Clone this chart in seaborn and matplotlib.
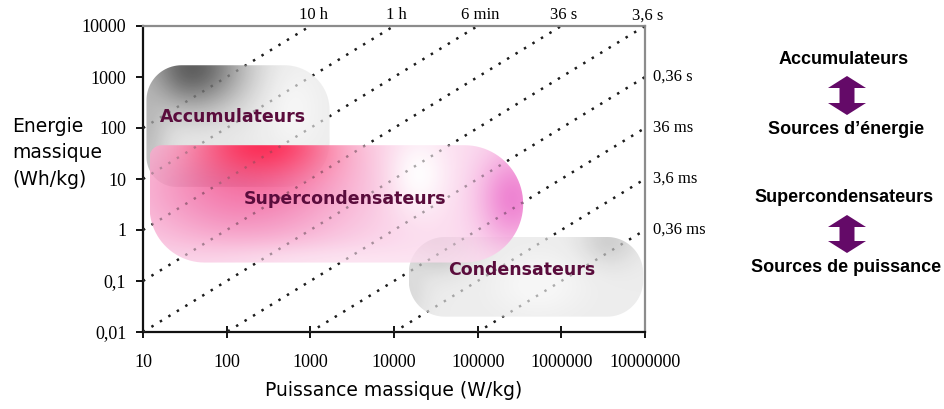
import numpy as np
import pandas as pd
import seaborn as sns
import matplotlib.pyplot as plt
import matplotlib.colors as mcolors
from matplotlib.patches import Polygon
from matplotlib.transforms import IdentityTransform

# axes ticks
power_ticks = [10, 100, 1000, 10000, 100000, 1000000, 10000000]
power_tick_labels = ["10", "100", "1000", "10000", "100000", "1000000", "10000000"]
energy_ticks = [0.01, 0.1, 1, 10, 100, 1000, 10000]
energy_tick_labels = ["0,01", "0,1", "1", "10", "100", "1000", "10000"]

# constant time lines (E = P * t, t in hours)
duration_h = [10, 1, 0.1, 0.01, 0.001, 1e-4, 1e-5, 1e-6, 1e-7]
duration_labels = ["10 h", "1 h", "6 min", "36 s", "3,6 s", "0,36 s", "36 ms", "3,6 ms", "0,36 ms"]

# technology regions (W/kg, Wh/kg)
tech_names = ["Accumulateurs", "Supercondensateurs", "Condensateurs"]
tech_power_min = [11, 12, 1.5e4]
tech_power_max = [1700, 3.5e5, 9.5e6]
tech_energy_min = [7, 0.23, 0.02]
tech_energy_max = [1700, 46, 0.73]
tech_label_power = [118, 2600, 3.4e5]
tech_label_energy = [165, 4.0, 0.165]

side_top = ["Accumulateurs", "Supercondensateurs"]
side_bottom = ["Sources d\u2019énergie", "Sources de puissance"]

# gradient look of each region: spots = ((fx, fy from top), (sx, sy), colour, strength)
blob_styles = {
    "Accumulateurs": dict(base="#ececec", radii=(30, 45, 45, 35), alpha=0.9, z=2, spots=[
        ((0.25, 0.02), (0.28, 0.35), "#454545", 0.95),
        ((0.0, 0.5), (0.12, 0.5), "#a0a0a0", 0.7),
        ((0.35, 0.97), (0.35, 0.2), "#7a7a7a", 0.6),
        ((0.8, 0.35), (0.15, 0.35), "#ffffff", 0.5)]),
    "Condensateurs": dict(base="#ebebeb", radii=(36, 36, 36, 36), alpha=0.9, z=2, spots=[
        ((0.12, 0.03), (0.15, 0.35), "#9a9a9a", 0.8),
        ((0.85, 0.05), (0.12, 0.3), "#b5b5b5", 0.6),
        ((0.0, 0.7), (0.08, 0.4), "#c4c4c4", 0.5),
        ((0.55, 0.6), (0.2, 0.4), "#ffffff", 0.6)]),
    "Supercondensateurs": dict(base="#fcd9ee", radii=(55, 60, 60, 12), alpha=0.85, z=3, spots=[
        ((0.25, 0.4), (0.3, 0.5), "#f0609f", 0.9),
        ((0.3, 0.0), (0.18, 0.3), "#ff1040", 1.0),
        ((0.97, 0.45), (0.09, 0.4), "#ea5cc4", 0.85),
        ((0.72, 0.25), (0.08, 0.35), "#ffffff", 0.95),
        ((0.5, 1.0), (0.4, 0.15), "#fde6f3", 0.7)]),
}


def rounded_outline(x0, y0, x1, y1, radii, n=24):
    bl, br, tr, tl = [min(r, (x1 - x0) / 2, (y1 - y0) / 2) for r in radii]
    pts = []
    for cx, cy, r, a0 in [(x0 + bl, y0 + bl, bl, 180), (x1 - br, y0 + br, br, 270),
                          (x1 - tr, y1 - tr, tr, 0), (x0 + tl, y1 - tl, tl, 90)]:
        a = np.radians(np.linspace(a0, a0 + 90, n))
        pts.extend(zip(cx + r * np.cos(a), cy + r * np.sin(a)))
    return np.array(pts)


def double_arrow(fig, cx, ytop, ybot, color):
    hw, hh, sw = 19, 12, 7.5
    pts = [(cx, ytop), (cx + hw, ytop + hh), (cx + sw, ytop + hh), (cx + sw, ybot - hh),
           (cx + hw, ybot - hh), (cx, ybot), (cx - hw, ybot - hh), (cx - sw, ybot - hh),
           (cx - sw, ytop + hh), (cx - hw, ytop + hh)]
    pts = [(x / W_PX, 1 - y / H_PX) for x, y in pts]
    fig.add_artist(Polygon(pts, closed=True, transform=fig.transFigure, fc=color, ec="none"))


W_PX, H_PX = 945, 409
sns.set_style("white")
plt.rcParams["font.family"] = ["DejaVu Sans"]
plt.rcParams.update({"text.color": "black", "axes.labelcolor": "black",
                     "xtick.color": "black", "ytick.color": "black"})

fig = plt.figure(figsize=(W_PX / 100, H_PX / 100), dpi=100)
ax = fig.add_axes([143 / W_PX, 77 / H_PX, 502 / W_PX, 306 / H_PX])
ax.set_xscale("log")
ax.set_yscale("log")

rows = []
for t, lab in zip(duration_h, duration_labels):
    for p in [power_ticks[0], power_ticks[-1]]:
        rows.append({"P": p, "E": p * t, "label": lab})
lines_df = pd.DataFrame(rows)
sns.lineplot(data=lines_df, x="P", y="E", units="label", estimator=None, sort=False,
             color="black", lw=1.7, linestyle=(0, (1, 3.2)), legend=False, ax=ax, zorder=1)
# faint copy on top so the dots show through the coloured regions
sns.lineplot(data=lines_df, x="P", y="E", units="label", estimator=None, sort=False,
             color="#555555", lw=1.7, linestyle=(0, (1, 3.2)), alpha=0.35, legend=False,
             ax=ax, zorder=4)

ax.set_xlim(power_ticks[0], power_ticks[-1])
ax.set_ylim(energy_ticks[0], energy_ticks[-1])
ax.set_autoscale_on(False)

for i, name in enumerate(tech_names):
    st = blob_styles[name]
    (x0, y0), (x1, y1) = ax.transData.transform([(tech_power_min[i], tech_energy_min[i]),
                                                 (tech_power_max[i], tech_energy_max[i])])
    w, h = int(round(x1 - x0)), int(round(y1 - y0))
    xx, yy = np.meshgrid(np.arange(w) + 0.5, np.arange(h) + 0.5)
    img = np.ones((h, w, 3)) * np.array(mcolors.to_rgb(st["base"]))
    for (fx, fy), (sx, sy), col, s in st["spots"]:
        cx, cy = fx * w, (1 - fy) * h
        wgt = s * np.exp(-(((xx - cx) / (sx * w)) ** 2 + ((yy - cy) / (sy * h)) ** 2))[..., None]
        img = img * (1 - wgt) + np.array(mcolors.to_rgb(col)) * wgt
    (u0, v0), (u1, v1) = ax.transAxes.inverted().transform([(x0, y0), (x1, y1)])
    im = ax.imshow(img, extent=[u0, u1, v0, v1], transform=ax.transAxes, origin="lower",
                   aspect="auto", interpolation="bilinear", alpha=st["alpha"], zorder=st["z"])
    im.set_clip_path(Polygon(rounded_outline(x0, y0, x1, y1, st["radii"]), closed=True,
                             transform=IdentityTransform()))
    ax.text(tech_label_power[i], tech_label_energy[i], name, ha="center", va="center",
            fontsize=12.5, weight="bold", color="#5a0c3c", zorder=6)

ax.set_xlim(power_ticks[0], power_ticks[-1])
ax.set_ylim(energy_ticks[0], energy_ticks[-1])

# time labels on top and right edges
for t, lab in zip(duration_h, duration_labels):
    p_end = energy_ticks[-1] / t
    if p_end <= power_ticks[-1]:
        ax.annotate(lab, (p_end, energy_ticks[-1]), xytext=(2, 2), textcoords="offset points",
                    ha="center", va="bottom", fontsize=12, family="Liberation Serif",
                    annotation_clip=False)
    else:
        ax.annotate(lab, (power_ticks[-1], power_ticks[-1] * t), xytext=(6, 0),
                    textcoords="offset points", ha="left", va="center", fontsize=12,
                    family="Liberation Serif", annotation_clip=False)

ax.set_xticks(power_ticks, power_tick_labels)
ax.set_yticks(energy_ticks, energy_tick_labels)
ax.minorticks_off()
ax.tick_params(axis="y", direction="out", length=5, width=1.3, pad=7, labelsize=13,
               labelfontfamily="Liberation Serif", left=True)
ax.tick_params(axis="x", direction="inout", length=8, width=1.3, pad=12, labelsize=13,
               labelfontfamily="Liberation Serif", bottom=True)
for side in ["left", "bottom"]:
    ax.spines[side].set_color("#111111")
    ax.spines[side].set_linewidth(1.6)
for side in ["top", "right"]:
    ax.spines[side].set_color("#8c8c8c")
    ax.spines[side].set_linewidth(1.6)
ax.set_zorder(1)

ax.set_xlabel("Puissance massique (W/kg)", fontsize=13.5, va="center")
ax.xaxis.set_label_coords(0.5, -0.19)
ax.set_ylabel("Energie\nmassique\n(Wh/kg)", fontsize=13.5, rotation=0, ha="left",
              va="center", linespacing=1.5)
ax.yaxis.set_label_coords(-0.261, 0.585)

# right-hand legend
purple = "#640a68"
for top_txt, bot_txt, y_top, y_arrow, y_bot in zip(side_top, side_bottom, [60, 197],
                                                    [(76, 115), (215, 253)], [130, 268]):
    fig.text(844 / W_PX, 1 - y_top / H_PX, top_txt, ha="center", va="center", fontsize=13,
             weight="bold", family="Liberation Sans")
    fig.text(846 / W_PX, 1 - y_bot / H_PX, bot_txt, ha="center", va="center", fontsize=13,
             weight="bold", family="Liberation Sans")
    double_arrow(fig, 847, y_arrow[0], y_arrow[1], purple)

fig.savefig("out.png", dpi=100)
